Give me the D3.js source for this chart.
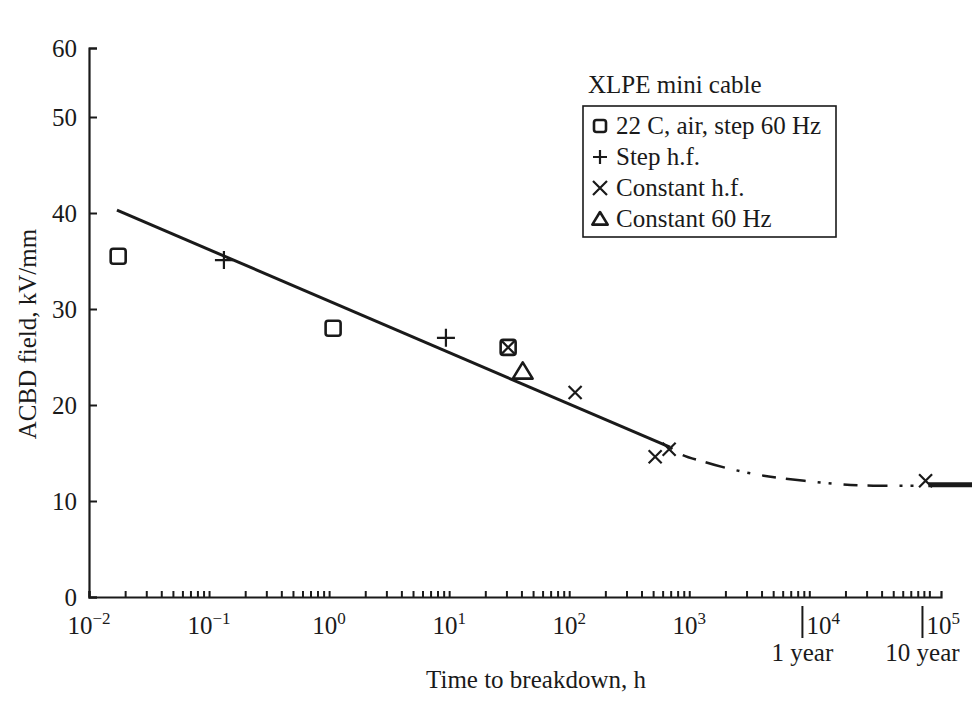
<!DOCTYPE html>
<html>
<head>
<meta charset="utf-8">
<script src="https://cdn.jsdelivr.net/npm/d3@7"></script>
<style>
  body { margin: 0; background: #fff; }
  text { font-family: "Liberation Serif", "DejaVu Serif", serif; fill: #1a1a1a; }
</style>
</head>
<body>
<div id="chart"></div>
<script>
// Données (temps en heures, champ en kV/mm)
const decadeExps = [-2, -1, 0, 1, 2, 3, 4, 5];
const fieldTicks = [0, 10, 20, 30, 40, 50, 60];

const squareHours = [0.0175, 1.08, 31];
const squareField = [35.5, 28, 26];
const plusHours = [0.133, 9.4];
const plusField = [35.1, 27];
const crossHours = [31, 112, 520, 680, 93000];
const crossField = [26, 21.3, 14.6, 15.4, 12.1];
const triangleHours = [41];
const triangleField = [23.5];

// droite ajustée puis extrapolation
const fitHours = [0.0171, 690];
const fitField = [40.3, 15.6];
const extrapHours = [690, 790, 1320, 2660, 9100, 34000, 80000];
const extrapField = [15.6, 15.1, 14.1, 13.1, 12.1, 11.6, 11.6];
const plateauHours = [98000, 230000];
const plateauField = [11.7, 11.7];

const yearHours = [8760, 87600];
const yearLabels = ["1 year", "10 year"];

const legendTitle = "XLPE mini cable";
const legendLabels = ["22 C, air, step 60 Hz", "Step h.f.", "Constant h.f.", "Constant 60 Hz"];
const legendShapes = ["square", "plus", "cross", "triangle"];

// Configuration
const width = 972, height = 713;
const fontSize = '25px';

const x = d3.scaleLog().domain([1e-2, 1.25e5]).range([89, 941]);
const y = d3.scaleLinear().domain([0, 50, 60]).range([597, 117, 48]);

const svg = d3.select('#chart').append('svg')
    .attr('width', width)
    .attr('height', height);

// symboles
const shapePath = {
    plus: s => `M${-s},0H${s}M0,${-s}V${s}`,
    cross: s => `M${-s},${-s}L${s},${s}M${-s},${s}L${s},${-s}`,
    triangle: s => `M0,${-s}L${s * 1.1},${s * 0.8}L${-s * 1.1},${s * 0.8}Z`
};

function drawShape(g, shape, size) {
    if (shape === 'square') {
        g.append('rect')
            .attr('x', -size).attr('y', -size)
            .attr('width', size * 2).attr('height', size * 2)
            .attr('rx', 2.5)
            .attr('fill', 'none').attr('stroke', '#1a1a1a').attr('stroke-width', 2.6);
    } else {
        g.append('path')
            .attr('d', shapePath[shape](size))
            .attr('fill', 'none').attr('stroke', '#1a1a1a')
            .attr('stroke-width', shape === 'triangle' ? 2.6 : 2.2)
            .attr('stroke-linejoin', 'round');
    }
}

// Axe Y
const yAxis = d3.axisLeft(y).tickValues(fieldTicks).tickSize(-8).tickPadding(12);
const gy = svg.append('g').attr('transform', 'translate(89,0)').call(yAxis);
gy.select('.domain').attr('stroke', '#1a1a1a').attr('stroke-width', 2.2);
gy.selectAll('.tick line').attr('stroke', '#1a1a1a').attr('stroke-width', 2);
gy.selectAll('.tick text').style('font-size', fontSize).attr('fill', '#1a1a1a')
    .style('font-family', '"Liberation Serif", serif');

// Axe X : petites graduations vers l'intérieur
const minorTicks = [];
decadeExps.forEach(e => {
    if (e === 5) { minorTicks.push(1e5); return; }
    for (let m = 1; m <= 9; m++) minorTicks.push(m * Math.pow(10, e));
});
const xAxis = d3.axisBottom(x).tickValues(minorTicks).tickSize(-6).tickFormat('');
const gx = svg.append('g').attr('transform', 'translate(0,597)').call(xAxis);
gx.select('.domain').attr('stroke', '#1a1a1a').attr('stroke-width', 2.2);
gx.selectAll('.tick line').attr('stroke', '#1a1a1a').attr('stroke-width', 2);

// étiquettes des décades
const decadeLabels = svg.append('g');
decadeExps.forEach(e => {
    const isYear = e >= 4;
    const px = isYear ? x(yearHours[e - 4]) + 4 : x(Math.pow(10, e));
    const t = decadeLabels.append('text')
        .attr('x', px)
        .attr('y', 634)
        .attr('text-anchor', isYear ? 'start' : 'middle')
        .style('font-size', fontSize);
    t.append('tspan').text('10');
    t.append('tspan').attr('dy', -10).style('font-size', '17px')
        .text(e < 0 ? '\u2212' + Math.abs(e) : String(e));
});

// repères 1 an / 10 ans
yearHours.forEach((h, i) => {
    svg.append('line')
        .attr('x1', x(h)).attr('x2', x(h))
        .attr('y1', 606).attr('y2', 638)
        .attr('stroke', '#1a1a1a').attr('stroke-width', 2);
    svg.append('text')
        .attr('x', x(h)).attr('y', 661)
        .attr('text-anchor', 'middle')
        .style('font-size', fontSize)
        .text(yearLabels[i]);
});

// Titres des axes
svg.append('text')
    .attr('transform', 'translate(36,334) rotate(-90)')
    .attr('text-anchor', 'middle')
    .style('font-size', fontSize)
    .text('ACBD field, kV/mm');

svg.append('text')
    .attr('x', 536).attr('y', 688)
    .attr('text-anchor', 'middle')
    .style('font-size', fontSize)
    .text('Time to breakdown, h');

// Courbes
const line = d3.line().x(d => x(d[0])).y(d => y(d[1]));

svg.append('path')
    .datum(d3.zip(fitHours, fitField))
    .attr('d', line)
    .attr('fill', 'none').attr('stroke', '#1a1a1a').attr('stroke-width', 3);

svg.append('path')
    .datum(d3.zip(extrapHours, extrapField))
    .attr('d', d3.line().curve(d3.curveMonotoneX).x(d => x(d[0])).y(d => y(d[1])))
    .attr('fill', 'none').attr('stroke', '#1a1a1a').attr('stroke-width', 2.5)
    .attr('stroke-dasharray', '3,12,14,10,20,12,3,8');

svg.append('path')
    .datum(d3.zip(plateauHours, plateauField))
    .attr('d', line)
    .attr('fill', 'none').attr('stroke', '#1a1a1a').attr('stroke-width', 5);

// Points
function plotPoints(hours, field, shape, size) {
    const pts = svg.append('g');
    d3.zip(hours, field).forEach(d => {
        const g = pts.append('g').attr('transform', `translate(${x(d[0])},${y(d[1])})`);
        drawShape(g, shape, size);
    });
}
plotPoints(squareHours, squareField, 'square', 7.5);
plotPoints(plusHours, plusField, 'plus', 9);
plotPoints(crossHours, crossField, 'cross', 6.5);
plotPoints(triangleHours, triangleField, 'triangle', 9);

// Légende
const legend = svg.append('g');
legend.append('text')
    .attr('x', 588).attr('y', 93)
    .style('font-size', fontSize)
    .text(legendTitle);
legend.append('rect')
    .attr('x', 583).attr('y', 106)
    .attr('width', 253).attr('height', 131)
    .attr('fill', 'none').attr('stroke', '#1a1a1a').attr('stroke-width', 1.6);

legendLabels.forEach((lab, i) => {
    const cy = 126 + i * 31;
    const g = legend.append('g').attr('transform', `translate(600,${cy})`);
    drawShape(g, legendShapes[i], legendShapes[i] === 'square' ? 6 : 7);
    legend.append('text')
        .attr('x', 616).attr('y', cy + 8)
        .style('font-size', fontSize)
        .text(lab);
});
</script>
</body>
</html>
